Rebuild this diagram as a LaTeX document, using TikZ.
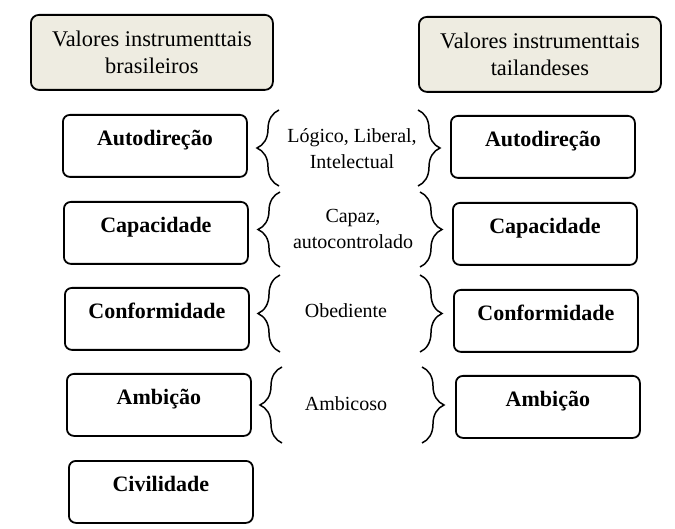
\documentclass[tikz,border=0pt]{standalone}
\usepackage{fontspec}
\setmainfont{Liberation Serif}
\usetikzlibrary{positioning,decorations.pathreplacing}
\definecolor{headfill}{HTML}{EEECE1}

\begin{document}
\begin{tikzpicture}[x=1pt,y=-1pt,line width=1.8pt,
  headbox/.style={draw,rounded corners=8pt,fill=headfill,anchor=north west,minimum width=242pt,minimum height=75pt,align=center,font=\fontsize{22.4}{27}\selectfont},
  valbox/.style={draw,rounded corners=7pt,anchor=north west,minimum width=184pt,inner ysep=0pt,text height=31pt,text depth=31pt,font=\fontsize{22}{24}\selectfont\bfseries},
  adjtext/.style={align=center,font=\fontsize{20}{26}\selectfont},
  grp/.style={decorate,decoration={brace,amplitude=22pt},line width=1.5pt}]
\useasboundingbox (0,0) rectangle (675,529);
% headers
\node[headbox] (brhead) at (30,14) {Valores instrumenttais\\ brasileiros};
\node[headbox] (thhead) at (418,16) {Valores instrumenttais\\ tailandeses};
% Brazilian values
\node[valbox] (brauto) at (62,114) {Autodireção};
\node[valbox] (brcap) at (63,201) {Capacidade};
\node[valbox] (brconf) at (64,287) {Conformidade};
\node[valbox] (bramb) at (66,373) {Ambição};
\node[valbox] (brciv) at (68,460) {Civilidade};
% Thai values
\node[valbox] (thauto) at (450,115) {Autodireção};
\node[valbox] (thcap) at (452,202) {Capacidade};
\node[valbox] (thconf) at (453,289) {Conformidade};
\node[valbox] (thamb) at (455,375) {Ambição};
% shared traits
\node[adjtext] (tauto) at (352,149) {Lógico, Liberal,\\ Intelectual};
\node[adjtext] (tcap) at (353,229) {Capaz,\\ autocontrolado};
\node[adjtext] (tconf) at (346,311) {Obediente};
\node[adjtext] (tamb) at (346,404) {Ambicoso};
% braces
\draw[grp] (279,186) -- (279,110);
\draw[grp] (280,267) -- (280,192);
\draw[grp] (280,352) -- (280,275);
\draw[grp] (282,443) -- (282,367);
\draw[grp] (418,110) -- (418,186);
\draw[grp] (420,192) -- (420,267);
\draw[grp] (420,275) -- (420,352);
\draw[grp] (422,367) -- (422,443);
\end{tikzpicture}
\end{document}
